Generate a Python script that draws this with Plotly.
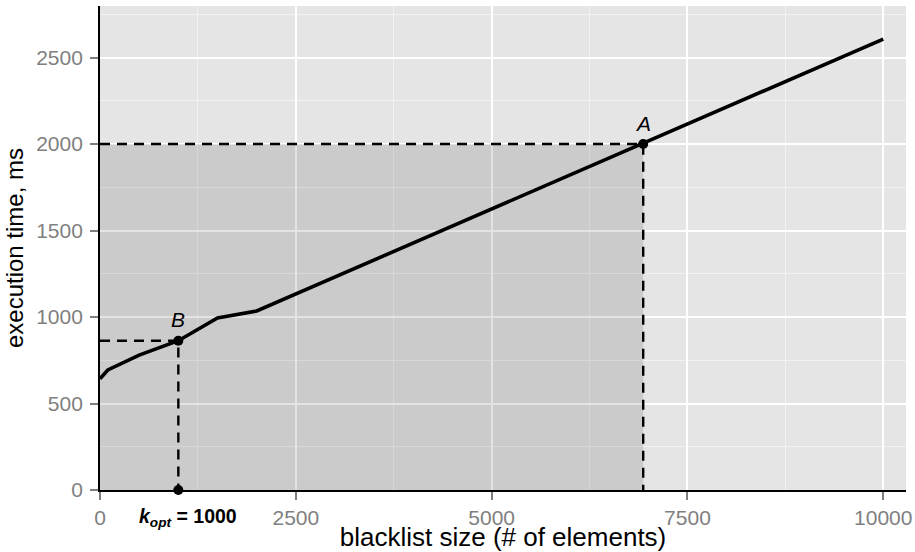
import plotly.graph_objects as go

# Data
blacklist_size = [0, 100, 500, 1000, 1500, 2000, 10000]
exec_time = [643, 694, 780, 863, 994, 1035, 2607]

point_A = (6935, 2000)
point_B = (1000, 863)
x_ticks = [0, 2500, 5000, 7500, 10000]
y_ticks = [0, 500, 1000, 1500, 2000, 2500]

FONT = "Liberation Sans, Arial, sans-serif"

fig = go.Figure()

# dashed guide lines
for (px, py) in [point_A, point_B]:
    fig.add_trace(go.Scatter(x=[0, px, px], y=[py, py, 0], mode="lines",
                             line=dict(color="black", width=2.4, dash="10px,7px"),
                             hoverinfo="skip", showlegend=False))

fig.add_trace(go.Scatter(x=blacklist_size, y=exec_time, mode="lines",
                         line=dict(color="black", width=3.6), showlegend=False))

fig.add_trace(go.Scatter(x=[point_A[0], point_B[0], point_B[0]],
                         y=[point_A[1], point_B[1], 0], mode="markers",
                         marker=dict(color="black", size=10), showlegend=False,
                         cliponaxis=False))

# shaded region
fig.add_shape(type="rect", x0=0, x1=point_A[0], y0=0, y1=point_A[1],
              fillcolor="rgba(0,0,0,0.11)", line=dict(width=0), layer="between")

fig.add_annotation(x=point_A[0], y=point_A[1], text="<i>A</i>", showarrow=False,
                   yshift=21, font=dict(size=21, color="black", family=FONT))
fig.add_annotation(x=point_B[0], y=point_B[1], text="<i>B</i>", showarrow=False,
                   yshift=21, font=dict(size=21, color="black", family=FONT))
fig.add_annotation(x=point_B[0], y=0, yref="paper", yanchor="top",
                   text="<b><i>k</i><sub><i>opt</i></sub> = 1000</b>",
                   showarrow=False, yshift=-13, xshift=10,
                   font=dict(size=19.5, color="black", family=FONT))

axis_common = dict(
    showline=True, linecolor="black", linewidth=1.8,
    ticks="outside", ticklen=8, tickcolor="#7f7f7f", tickwidth=1.8,
    tickfont=dict(size=21, color="#7f7f7f", family=FONT),
    gridcolor="white", gridwidth=1.8, zeroline=False,
    automargin=False,
)

fig.update_xaxes(range=[0, 10290], tickvals=x_ticks,
                 ticktext=[str(v) for v in x_ticks],
                 minor=dict(showgrid=True, dtick=1250, tick0=0, gridcolor="#f2f2f2",
                            gridwidth=0.9, ticks=""),
                 title_text="blacklist size (# of elements)", title_standoff=1,
                 title_font=dict(size=26, color="black", family=FONT),
                 **axis_common)
fig.update_yaxes(range=[0, 2798], tickvals=y_ticks,
                 ticktext=[str(v) for v in y_ticks],
                 minor=dict(showgrid=True, dtick=250, tick0=0, gridcolor="#f2f2f2",
                            gridwidth=0.9, ticks=""),
                 ticklabelstandoff=3,
                 title_text="execution time, ms", title_standoff=6,
                 title_font=dict(size=24, color="black", family=FONT),
                 **axis_common)

fig.update_layout(width=915, height=552,
                  margin=dict(l=100, r=9, t=6, b=62),
                  plot_bgcolor="#e5e5e5", paper_bgcolor="white",
                  font=dict(family=FONT))

fig.write_html("out.html", config={"displayModeBar": False},
               post_script="document.body.style.margin='0';")
